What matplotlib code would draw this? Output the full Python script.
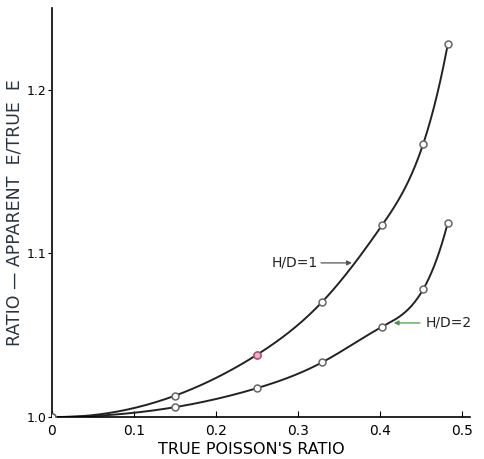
import numpy as np
import matplotlib.pyplot as plt

# data
poisson = [0.0, 0.15, 0.25, 0.33, 0.403, 0.453, 0.483]
ratio_hd1 = [1.0, 1.013, 1.038, 1.0705, 1.1174, 1.167, 1.228]
ratio_hd2 = [1.0, 1.006, 1.0176, 1.0335, 1.0552, 1.0781, 1.1188]

x_ticks = [0, 0.1, 0.2, 0.3, 0.4, 0.5]
x_tick_labels = ['0', '0.1', '0.2', '0.3', '0.4', '0.5']
y_ticks = [1.0, 1.1, 1.2]
y_tick_labels = ['1.0', '1.1', '1.2']


def spline(xs, ys, n=40):
    # not-a-knot cubic spline through the points, only for drawing the line
    xs = np.asarray(xs, float)
    ys = np.asarray(ys, float)
    k = len(xs)
    h = np.diff(xs)
    A = np.zeros((k, k))
    r = np.zeros(k)
    A[0, 0:3] = [h[1], -(h[0] + h[1]), h[0]]
    A[-1, -3:] = [h[-1], -(h[-2] + h[-1]), h[-2]]
    for i in range(1, k - 1):
        A[i, i - 1] = h[i - 1]
        A[i, i] = 2 * (h[i - 1] + h[i])
        A[i, i + 1] = h[i]
        r[i] = 6 * ((ys[i + 1] - ys[i]) / h[i] - (ys[i] - ys[i - 1]) / h[i - 1])
    M = np.linalg.solve(A, r)
    out_x, out_y = [], []
    for i in range(k - 1):
        t = np.linspace(xs[i], xs[i + 1], n)
        a = xs[i + 1] - t
        b = t - xs[i]
        y = (M[i] * a**3 + M[i + 1] * b**3) / (6 * h[i]) \
            + (ys[i] / h[i] - M[i] * h[i] / 6) * a \
            + (ys[i + 1] / h[i] - M[i + 1] * h[i] / 6) * b
        out_x.extend(t)
        out_y.extend(y)
    return np.array(out_x), np.array(out_y)


plt.rcParams['font.family'] = ['DejaVu Sans']

fig = plt.figure(figsize=(4.85, 4.59), dpi=100)
ax = fig.add_axes([0.107, 0.0915, 0.862, 0.891])

for ys in (ratio_hd1, ratio_hd2):
    sx, sy = spline(poisson, ys)
    ax.plot(sx, sy, color='#222222', linewidth=1.4, zorder=2)
    ax.plot(poisson, ys, linestyle='none', marker='o', markersize=5,
            markerfacecolor='white', markeredgecolor='#666666',
            markeredgewidth=1.1, zorder=3)

# the reddish mark on the 0.25 point of H/D=1
ax.plot(poisson[2], ratio_hd1[2], marker='o', markersize=5,
        markerfacecolor='#f0b0c8', markeredgecolor='#b05070',
        markeredgewidth=1.0, zorder=4)

# curve labels with arrows
ax.annotate('H/D=1', xy=(0.366, 1.0942), xytext=(0.2685, 1.0942),
            fontsize=10, color='#222222', va='center', ha='left',
            arrowprops=dict(arrowstyle='-|>', color='#555555', lw=0.9,
                            mutation_scale=7, shrinkA=48, shrinkB=0))
ax.annotate('H/D=2', xy=(0.417, 1.0575), xytext=(0.4558, 1.0575),
            fontsize=10, color='#222222', va='center', ha='left',
            arrowprops=dict(arrowstyle='-|>', color='#4a9a4a', lw=0.9,
                            mutation_scale=7, shrinkA=2, shrinkB=0))

ax.set_xlim(0, 0.51)
ax.set_ylim(1.0, 1.25)

ax.set_xticks(x_ticks)
ax.set_xticklabels(x_tick_labels, fontsize=10)
ax.set_yticks(y_ticks)
ax.set_yticklabels(y_tick_labels, fontsize=9)
ax.tick_params(axis='x', direction='in', length=4, width=0.8, pad=5)
ax.tick_params(axis='y', direction='out', length=3, width=0.8, pad=1)

ax.spines['top'].set_visible(False)
ax.spines['right'].set_visible(False)
ax.spines['left'].set_linewidth(1.2)
ax.spines['bottom'].set_linewidth(1.2)

ax.set_xlabel("TRUE POISSON'S RATIO", fontsize=11.5)
ax.xaxis.set_label_coords(0.478, -0.06)
ax.set_ylabel('RATIO \u2014 APPARENT  E/TRUE  E', fontsize=12.5,
              color='#2a3340')
ax.yaxis.set_label_coords(-0.068, 0.5)

fig.savefig('out.png', dpi=100)
